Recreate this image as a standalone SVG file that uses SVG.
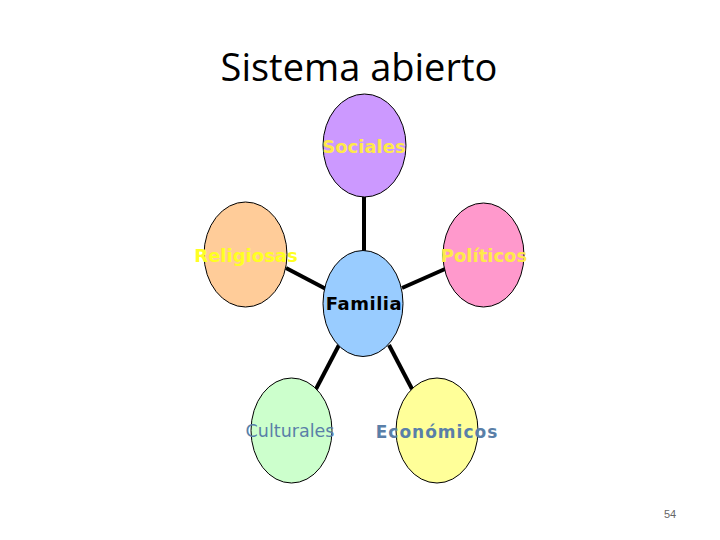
<svg xmlns="http://www.w3.org/2000/svg" width="720" height="540" viewBox="0 0 720 540">
<style>
.node ellipse{stroke:#000;stroke-width:1}
.lbl{font-family:"DejaVu Sans",Verdana,sans-serif;font-size:18px;text-anchor:middle}
.yel{font-weight:bold;fill:#FFE94A}
.blue{fill:#5A7FA8}
#connectors line{stroke:#000;stroke-width:4}
</style>
<rect width="720" height="540" fill="#fff"/>
<text x="359" y="81" font-family="'Open Sans','Liberation Sans',sans-serif" font-size="38" text-anchor="middle" fill="#000">Sistema abierto</text>
<g id="connectors">
<line x1="364" y1="197" x2="364" y2="251"/>
<line x1="286" y1="268" x2="326" y2="289"/>
<line x1="402" y1="288" x2="445" y2="269"/>
<line x1="339" y1="345" x2="316" y2="389"/>
<line x1="389" y1="345" x2="412" y2="389"/>
</g>
<g id="sociales" class="node"><ellipse cx="364.5" cy="145.5" rx="41.5" ry="51.5" fill="#CC99FF"/><text class="lbl yel" x="364" y="153">Sociales</text></g>
<g id="religiosas" class="node"><ellipse cx="245.5" cy="254.5" rx="41.5" ry="52.5" fill="#FFCC99"/><text class="lbl yel" x="246" y="262" style="fill:#FFFF22">Religiosas</text></g>
<g id="politicos" class="node"><ellipse cx="483.5" cy="255" rx="40.5" ry="52" fill="#FF99CC"/><text class="lbl yel" x="484" y="262">Políticos</text></g>
<g id="familia" class="node"><ellipse cx="363" cy="303.5" rx="40" ry="53" fill="#99CCFF"/><text class="lbl" x="364" y="310" font-weight="bold" letter-spacing="0.5" fill="#000">Familia</text></g>
<g id="culturales" class="node"><ellipse cx="291.5" cy="430.5" rx="40.5" ry="52.5" fill="#CCFFCC"/><text class="lbl blue" x="290" y="437" style="font-size:17.5px">Culturales</text></g>
<g id="economicos" class="node"><ellipse cx="437" cy="430.5" rx="41" ry="52.5" fill="#FFFF99"/><text class="lbl blue" x="437" y="438" font-weight="bold" letter-spacing="1" style="font-size:17px">Económicos</text></g>
<text x="670" y="518" font-family="'Liberation Sans',sans-serif" font-size="11" text-anchor="middle" fill="#666">54</text>
</svg>
